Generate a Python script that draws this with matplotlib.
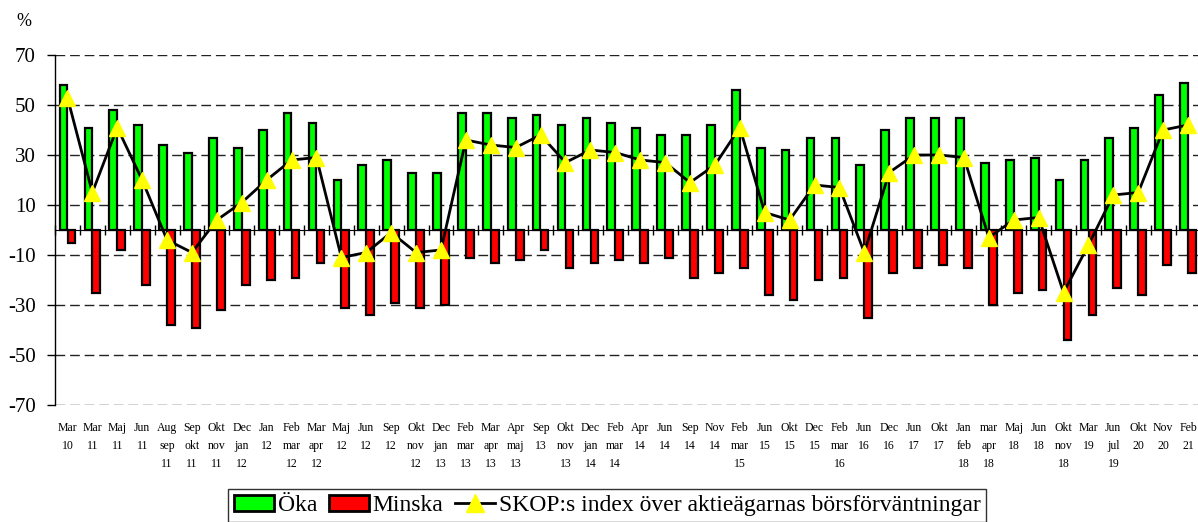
import numpy as np
import matplotlib
matplotlib.use("Agg")
import matplotlib.pyplot as plt
from matplotlib.patches import Patch
from matplotlib.lines import Line2D

plt.rcParams['font.family'] = ['Liberation Serif', 'DejaVu Serif']

categories = [
    "Mar\n10", "Mar\n11", "Maj\n11", "Jun\n11", "Aug\nsep\n11", "Sep\nokt\n11", "Okt\nnov\n11",
    "Dec\njan\n12", "Jan\n12", "Feb\nmar\n12", "Mar\napr\n12", "Maj\n12", "Jun\n12", "Sep\n12",
    "Okt\nnov\n12", "Dec\njan\n13", "Feb\nmar\n13", "Mar\napr\n13", "Apr\nmaj\n13", "Sep\n13",
    "Okt\nnov\n13", "Dec\njan\n14", "Feb\nmar\n14", "Apr\n14", "Jun\n14", "Sep\n14", "Nov\n14",
    "Feb\nmar\n15", "Jun\n15", "Okt\n15", "Dec\n15", "Feb\nmar\n16", "Jun\n16", "Dec\n16",
    "Jun\n17", "Okt\n17", "Jan\nfeb\n18", "mar\napr\n18", "Maj\n18", "Jun\n18", "Okt\nnov\n18",
    "Mar\n19", "Jun\njul\n19", "Okt\n20", "Nov\n20", "Feb\n21",
]

oka = [58, 41, 48, 42, 34, 31, 37, 33, 40, 47, 43, 20, 26, 28, 23, 23, 47, 47, 45, 46,
       42, 45, 43, 41, 38, 38, 42, 56, 33, 32, 37, 37, 26, 40, 45, 45, 45, 27, 28, 29,
       20, 28, 37, 41, 54, 59]

minska = [-5, -25, -8, -22, -38, -39, -32, -22, -20, -19, -13, -31, -34, -29, -31, -30,
          -11, -13, -12, -8, -15, -13, -12, -13, -11, -19, -17, -15, -26, -28, -20, -19,
          -35, -17, -15, -14, -15, -30, -25, -24, -44, -34, -23, -26, -14, -17]

index = [53, 15, 41, 20, -4, -9, 4, 11, 20, 28, 29, -11, -9, -1, -9, -8, 36, 34, 33, 38,
         27, 32, 31, 28, 27, 19, 26, 41, 7, 4, 18, 17, -9, 23, 30, 30, 29, -3, 4, 5,
         -25, -6, 14, 15, 40, 42]

yticks = [70, 50, 30, 10, -10, -30, -50, -70]

W, H = 1198, 522
fig = plt.figure(figsize=(W / 100, H / 100), dpi=100)
ax = fig.add_axes([55 / W, 1 - 405 / H, 1145.5 / W, 350 / H])

x = np.arange(len(categories))
bw = 0.31
ax.bar(x - 0.16, oka, width=bw, color='#00FF00', edgecolor='black', linewidth=1.6, zorder=3)
ax.bar(x + 0.16, minska, width=bw, color='#FF0000', edgecolor='black', linewidth=1.6, zorder=3)
ax.plot(x, index, color='black', linewidth=2, marker='^', markersize=12,
        markerfacecolor='#FFFF00', markeredgecolor='#FFFF00', zorder=5)

ax.set_xlim(-0.5, len(categories) - 0.5)
ax.set_ylim(-70, 70)
ax.set_yticks(yticks)
ax.set_yticklabels([str(v) for v in yticks])
ax.tick_params(axis='y', direction='out', length=6, width=1, labelsize=15, pad=8, color='black')
ax.yaxis.grid(True, color='#222222', linestyle=(0, (7, 3.5)), linewidth=1)
ax.set_axisbelow(True)

for s in ['top', 'right', 'bottom']:
    ax.spines[s].set_visible(False)
ax.spines['left'].set_linewidth(1)

ax.set_xticks(x)
ax.set_xticklabels(categories, fontsize=8.5)
ax.tick_params(axis='x', length=0, pad=12)
for lbl in ax.get_xticklabels():
    lbl.set_linespacing(1.7)
    lbl.set_verticalalignment('top')

zero = ax.secondary_xaxis(0.5)
zero.set_xticks(np.arange(len(categories) + 1) - 0.5)
zero.set_xticklabels([])
zero.tick_params(axis='x', direction='inout', length=7, width=1)
zero.spines['bottom'].set_linewidth(1.2)

fig.text(24 / W, 1 - 22 / H, '%', fontsize=13, ha='center', va='center')

handles = [
    Patch(facecolor='#00FF00', edgecolor='black', linewidth=2),
    Patch(facecolor='#FF0000', edgecolor='black', linewidth=2),
    Line2D([], [], color='black', linewidth=2, marker='^', markersize=13,
           markerfacecolor='#FFFF00', markeredgecolor='#FFFF00'),
]
labels = ['Öka', 'Minska', 'SKOP:s index över aktieägarnas börsförväntningar']
leg = fig.legend(handles, labels, ncol=3, loc='upper left',
                 bbox_to_anchor=(228 / W, 1 - 489 / H), frameon=True, fancybox=False,
                 edgecolor='black', fontsize=17, handlelength=1.7, handletextpad=0.15,
                 columnspacing=0.5, borderpad=0.25, borderaxespad=0)
leg.get_frame().set_linewidth(1)

fig.savefig('out.png', dpi=100)
